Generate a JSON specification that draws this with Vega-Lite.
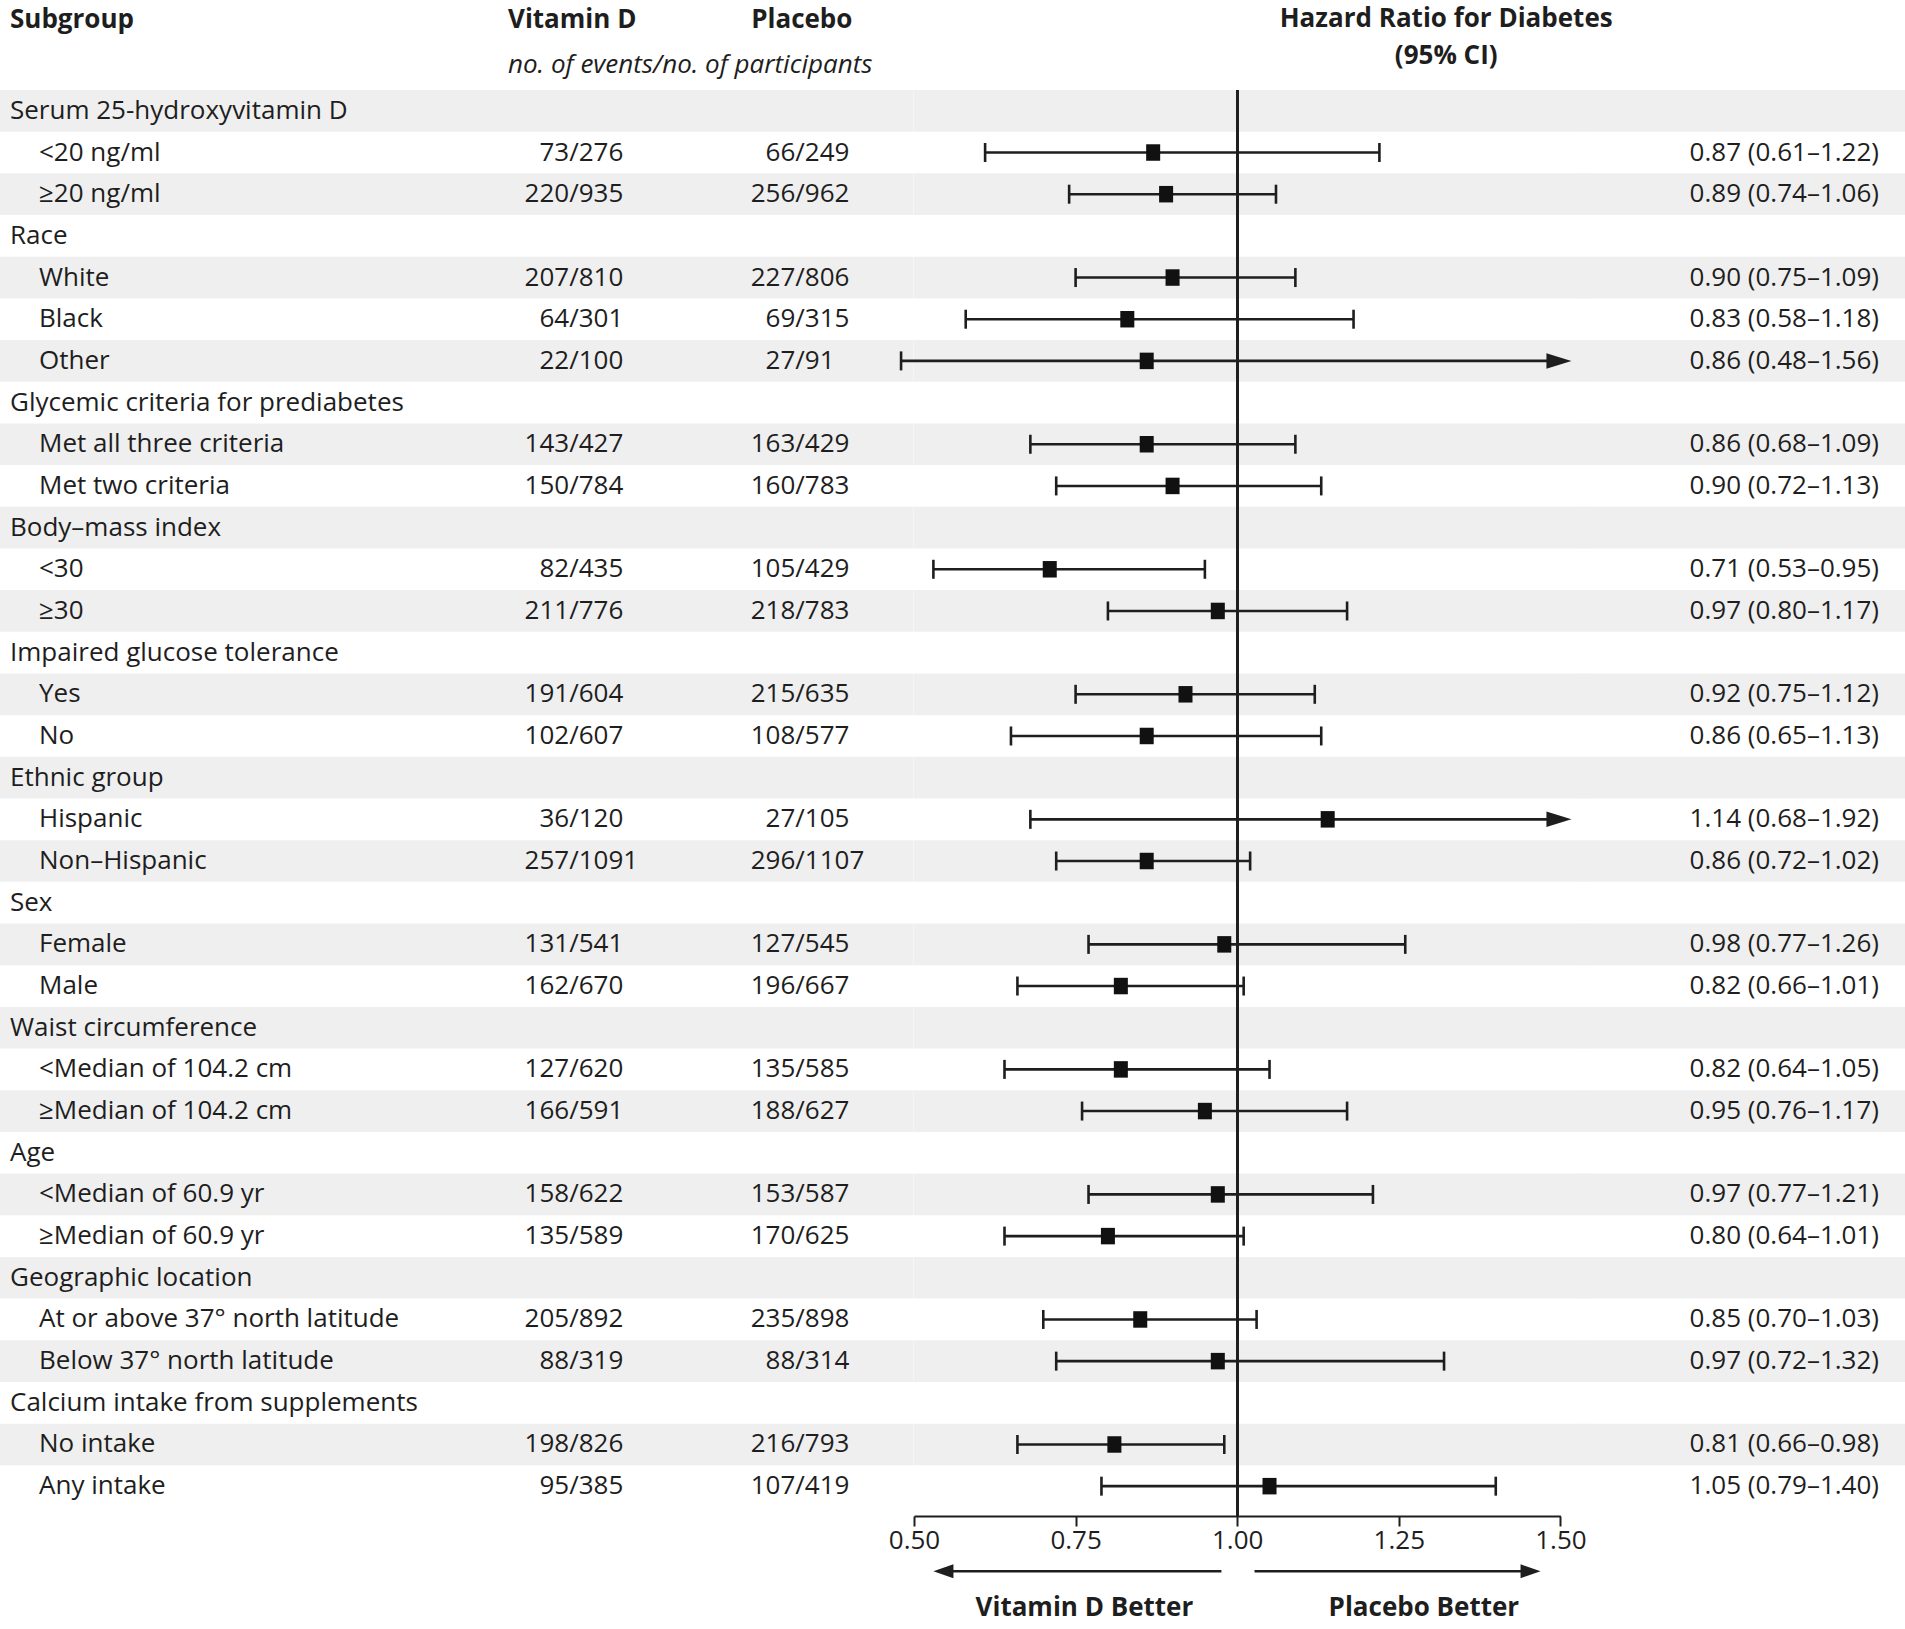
{
  "$schema": "https://vega.github.io/schema/vega-lite/v6.json",
  "padding": {"left": 0, "right": 0, "top": 6, "bottom": 0},
  "background": "white",
  "spacing": 0,
  "config": {
    "font": "Open Sans",
    "view": {"stroke": null},
    "text": {"fontSize": 26, "color": "#1e1e1e", "baseline": "middle"},
    "title": {"font": "Open Sans", "fontSize": 26, "fontWeight": "bold", "color": "#1e1e1e", "subtitleFont": "Open Sans", "subtitleFontSize": 26, "subtitleColor": "#1e1e1e"}
  },
  "datasets": {
    "rows": [
      {"row": 0, "label": "Serum 25-hydroxyvitamin D"},
      {"row": 1, "label": "<20 ng/ml", "vd_events": 73, "vd_total": 276, "pl_events": 66, "pl_total": 249, "hr": 0.87, "lo": 0.61, "hi": 1.22, "hr_text": "0.87 (0.61–1.22)"},
      {"row": 2, "label": "≥20 ng/ml", "vd_events": 220, "vd_total": 935, "pl_events": 256, "pl_total": 962, "hr": 0.89, "lo": 0.74, "hi": 1.06, "hr_text": "0.89 (0.74–1.06)"},
      {"row": 3, "label": "Race"},
      {"row": 4, "label": "White", "vd_events": 207, "vd_total": 810, "pl_events": 227, "pl_total": 806, "hr": 0.90, "lo": 0.75, "hi": 1.09, "hr_text": "0.90 (0.75–1.09)"},
      {"row": 5, "label": "Black", "vd_events": 64, "vd_total": 301, "pl_events": 69, "pl_total": 315, "hr": 0.83, "lo": 0.58, "hi": 1.18, "hr_text": "0.83 (0.58–1.18)"},
      {"row": 6, "label": "Other", "vd_events": 22, "vd_total": 100, "pl_events": 27, "pl_total": 91, "hr": 0.86, "lo": 0.48, "hi": 1.56, "hr_text": "0.86 (0.48–1.56)"},
      {"row": 7, "label": "Glycemic criteria for prediabetes"},
      {"row": 8, "label": "Met all three criteria", "vd_events": 143, "vd_total": 427, "pl_events": 163, "pl_total": 429, "hr": 0.86, "lo": 0.68, "hi": 1.09, "hr_text": "0.86 (0.68–1.09)"},
      {"row": 9, "label": "Met two criteria", "vd_events": 150, "vd_total": 784, "pl_events": 160, "pl_total": 783, "hr": 0.90, "lo": 0.72, "hi": 1.13, "hr_text": "0.90 (0.72–1.13)"},
      {"row": 10, "label": "Body–mass index"},
      {"row": 11, "label": "<30", "vd_events": 82, "vd_total": 435, "pl_events": 105, "pl_total": 429, "hr": 0.71, "lo": 0.53, "hi": 0.95, "hr_text": "0.71 (0.53–0.95)"},
      {"row": 12, "label": "≥30", "vd_events": 211, "vd_total": 776, "pl_events": 218, "pl_total": 783, "hr": 0.97, "lo": 0.80, "hi": 1.17, "hr_text": "0.97 (0.80–1.17)"},
      {"row": 13, "label": "Impaired glucose tolerance"},
      {"row": 14, "label": "Yes", "vd_events": 191, "vd_total": 604, "pl_events": 215, "pl_total": 635, "hr": 0.92, "lo": 0.75, "hi": 1.12, "hr_text": "0.92 (0.75–1.12)"},
      {"row": 15, "label": "No", "vd_events": 102, "vd_total": 607, "pl_events": 108, "pl_total": 577, "hr": 0.86, "lo": 0.65, "hi": 1.13, "hr_text": "0.86 (0.65–1.13)"},
      {"row": 16, "label": "Ethnic group"},
      {"row": 17, "label": "Hispanic", "vd_events": 36, "vd_total": 120, "pl_events": 27, "pl_total": 105, "hr": 1.14, "lo": 0.68, "hi": 1.92, "hr_text": "1.14 (0.68–1.92)"},
      {"row": 18, "label": "Non–Hispanic", "vd_events": 257, "vd_total": 1091, "pl_events": 296, "pl_total": 1107, "hr": 0.86, "lo": 0.72, "hi": 1.02, "hr_text": "0.86 (0.72–1.02)"},
      {"row": 19, "label": "Sex"},
      {"row": 20, "label": "Female", "vd_events": 131, "vd_total": 541, "pl_events": 127, "pl_total": 545, "hr": 0.98, "lo": 0.77, "hi": 1.26, "hr_text": "0.98 (0.77–1.26)"},
      {"row": 21, "label": "Male", "vd_events": 162, "vd_total": 670, "pl_events": 196, "pl_total": 667, "hr": 0.82, "lo": 0.66, "hi": 1.01, "hr_text": "0.82 (0.66–1.01)"},
      {"row": 22, "label": "Waist circumference"},
      {"row": 23, "label": "<Median of 104.2 cm", "vd_events": 127, "vd_total": 620, "pl_events": 135, "pl_total": 585, "hr": 0.82, "lo": 0.64, "hi": 1.05, "hr_text": "0.82 (0.64–1.05)"},
      {"row": 24, "label": "≥Median of 104.2 cm", "vd_events": 166, "vd_total": 591, "pl_events": 188, "pl_total": 627, "hr": 0.95, "lo": 0.76, "hi": 1.17, "hr_text": "0.95 (0.76–1.17)"},
      {"row": 25, "label": "Age"},
      {"row": 26, "label": "<Median of 60.9 yr", "vd_events": 158, "vd_total": 622, "pl_events": 153, "pl_total": 587, "hr": 0.97, "lo": 0.77, "hi": 1.21, "hr_text": "0.97 (0.77–1.21)"},
      {"row": 27, "label": "≥Median of 60.9 yr", "vd_events": 135, "vd_total": 589, "pl_events": 170, "pl_total": 625, "hr": 0.80, "lo": 0.64, "hi": 1.01, "hr_text": "0.80 (0.64–1.01)"},
      {"row": 28, "label": "Geographic location"},
      {"row": 29, "label": "At or above 37° north latitude", "vd_events": 205, "vd_total": 892, "pl_events": 235, "pl_total": 898, "hr": 0.85, "lo": 0.70, "hi": 1.03, "hr_text": "0.85 (0.70–1.03)"},
      {"row": 30, "label": "Below 37° north latitude", "vd_events": 88, "vd_total": 319, "pl_events": 88, "pl_total": 314, "hr": 0.97, "lo": 0.72, "hi": 1.32, "hr_text": "0.97 (0.72–1.32)"},
      {"row": 31, "label": "Calcium intake from supplements"},
      {"row": 32, "label": "No intake", "vd_events": 198, "vd_total": 826, "pl_events": 216, "pl_total": 793, "hr": 0.81, "lo": 0.66, "hi": 0.98, "hr_text": "0.81 (0.66–0.98)"},
      {"row": 33, "label": "Any intake", "vd_events": 95, "vd_total": 385, "pl_events": 107, "pl_total": 419, "hr": 1.05, "lo": 0.79, "hi": 1.40, "hr_text": "1.05 (0.79–1.40)"}
    ],
    "notes": [
      {"side": "Vitamin D Better"},
      {"side": "Placebo Better"}
    ]
  },
  "vconcat": [
    {
      "bounds": "flush",
      "spacing": 0,
      "resolve": {"scale": {"y": "shared"}},
      "hconcat": [
        {
          "width": 470, "height": 1426,
          "title": {"text": "Subgroup", "anchor": "start", "dx": 10, "offset": 56.7},
          "data": {"name": "rows"},
          "encoding": {"y": {"field": "row", "type": "ordinal", "axis": null, "scale": {"paddingInner": 0, "paddingOuter": 0.108, "align": 0}}},
          "layer": [
            {"transform": [{"filter": "datum.row % 2 == 0"}], "mark": {"type": "rect", "color": "#efefef"}},
            {"transform": [{"filter": "!isValid(datum.hr)"}], "mark": {"type": "text", "align": "left", "dx": 10},
             "encoding": {"x": {"datum": 0, "type": "quantitative", "scale": {"domain": [0, 1], "nice": false, "zero": false}, "axis": null}, "text": {"field": "label", "type": "nominal"}}},
            {"transform": [{"filter": "isValid(datum.hr)"}], "mark": {"type": "text", "align": "left", "dx": 39},
             "encoding": {"x": {"datum": 0, "type": "quantitative", "scale": {"domain": [0, 1], "nice": false, "zero": false}, "axis": null}, "text": {"field": "label", "type": "nominal"}}}
          ]
        },
        {
          "width": 210, "height": 1426,
          "title": {"text": "Vitamin D", "subtitle": "no. of events/no. of participants", "anchor": "start", "dx": 38, "subtitleFontStyle": "italic", "subtitleFontWeight": "normal", "subtitlePadding": 19, "offset": 11.7},
          "data": {"name": "rows"},
          "encoding": {"y": {"field": "row", "type": "ordinal", "axis": null}},
          "layer": [
            {"transform": [{"filter": "datum.row % 2 == 0"}], "mark": {"type": "rect", "color": "#efefef"}},
            {"transform": [{"filter": "isValid(datum.hr)"}], "mark": {"type": "text", "align": "right", "dx": -4.8},
             "encoding": {"x": {"datum": 0.495, "type": "quantitative", "scale": {"domain": [0, 1], "nice": false, "zero": false}, "axis": null}, "text": {"field": "vd_events", "type": "nominal"}}},
            {"transform": [{"filter": "isValid(datum.hr)"}], "mark": {"type": "text", "align": "center", "text": "/"},
             "encoding": {"x": {"datum": 0.495, "type": "quantitative"}}},
            {"transform": [{"filter": "isValid(datum.hr)"}], "mark": {"type": "text", "align": "left", "dx": 4.8},
             "encoding": {"x": {"datum": 0.495, "type": "quantitative"}, "text": {"field": "vd_total", "type": "nominal"}}}
          ]
        },
        {
          "width": 233.6, "height": 1426,
          "title": {"text": "Placebo", "anchor": "middle", "dx": 5, "offset": 56.7},
          "data": {"name": "rows"},
          "encoding": {"y": {"field": "row", "type": "ordinal", "axis": null}},
          "layer": [
            {"transform": [{"filter": "datum.row % 2 == 0"}], "mark": {"type": "rect", "color": "#efefef"}},
            {"transform": [{"filter": "isValid(datum.hr)"}], "mark": {"type": "text", "align": "right", "dx": -4.8},
             "encoding": {"x": {"datum": 0.514, "type": "quantitative", "scale": {"domain": [0, 1], "nice": false, "zero": false}, "axis": null}, "text": {"field": "pl_events", "type": "nominal"}}},
            {"transform": [{"filter": "isValid(datum.hr)"}], "mark": {"type": "text", "align": "center", "text": "/"},
             "encoding": {"x": {"datum": 0.514, "type": "quantitative"}}},
            {"transform": [{"filter": "isValid(datum.hr)"}], "mark": {"type": "text", "align": "left", "dx": 4.8},
             "encoding": {"x": {"datum": 0.514, "type": "quantitative"}, "text": {"field": "pl_total", "type": "nominal"}}}
          ]
        },
        {
          "width": 646.4, "height": 1426,
          "title": {"text": "Hazard Ratio for Diabetes", "subtitle": "(95% CI)", "anchor": "middle", "dx": 209, "subtitleFontWeight": "bold", "subtitlePadding": 11, "offset": 19.7},
          "data": {"name": "rows"},
          "encoding": {"y": {"field": "row", "type": "ordinal", "axis": null}},
          "layer": [
            {"transform": [{"filter": "datum.row % 2 == 0"}], "mark": {"type": "rect", "color": "#efefef"},
             "encoding": {"x": {"datum": 0.5, "type": "quantitative", "scale": {"domain": [0.5, 1.5], "nice": false, "zero": false},
               "axis": {"values": [0.5, 0.75, 1, 1.25, 1.5], "format": ".2f", "title": null, "grid": false, "tickSize": 10, "tickWidth": 2, "tickColor": "#1e1e1e", "domainWidth": 2, "domainColor": "#1e1e1e", "labelFontSize": 26, "labelColor": "#1e1e1e", "labelPadding": 1, "labelFlush": false, "labelOverlap": false, "labelFont": "Open Sans"}},
               "x2": {"datum": 1.54}}},
            {"mark": {"type": "rule", "color": "#1e1e1e", "strokeWidth": 1.8},
             "encoding": {"x": {"datum": 1, "type": "quantitative"}, "y": null}},
            {"transform": [{"filter": "isValid(datum.hr) && datum.hi <= 1.5"}], "mark": {"type": "rule", "color": "#1e1e1e", "strokeWidth": 2.6},
             "encoding": {"x": {"field": "lo", "type": "quantitative"}, "x2": {"field": "hi"}}},
            {"transform": [{"filter": "isValid(datum.hr) && datum.hi > 1.5"}], "mark": {"type": "rule", "color": "#1e1e1e", "strokeWidth": 2.6},
             "encoding": {"x": {"field": "lo", "type": "quantitative"}, "x2": {"datum": 1.49}}},
            {"transform": [{"filter": "isValid(datum.hr) && datum.hi > 1.5"}], "mark": {"type": "point", "shape": "M-1,-0.62L1,0L-1,0.62Z", "size": 625, "filled": true, "color": "#1e1e1e", "opacity": 1},
             "encoding": {"x": {"datum": 1.4977, "type": "quantitative"}}},
            {"transform": [{"filter": "isValid(datum.hr)"}], "mark": {"type": "tick", "orient": "vertical", "size": 19, "thickness": 2.6, "color": "#1e1e1e", "opacity": 1},
             "encoding": {"x": {"field": "lo", "type": "quantitative"}}},
            {"transform": [{"filter": "isValid(datum.hr) && datum.hi <= 1.5"}], "mark": {"type": "tick", "orient": "vertical", "size": 19, "thickness": 2.6, "color": "#1e1e1e", "opacity": 1},
             "encoding": {"x": {"field": "hi", "type": "quantitative"}}},
            {"transform": [{"filter": "isValid(datum.hr)"}], "mark": {"type": "point", "shape": "M-0.85,-1H0.85V1H-0.85Z", "size": 272, "filled": true, "color": "#111111", "opacity": 1},
             "encoding": {"x": {"field": "hr", "type": "quantitative"}}}
          ]
        },
        {
          "width": 345, "height": 1426,
          "data": {"name": "rows"},
          "encoding": {"y": {"field": "row", "type": "ordinal", "axis": null}},
          "layer": [
            {"transform": [{"filter": "datum.row % 2 == 0"}], "mark": {"type": "rect", "color": "#efefef"},
             "encoding": {"x": {"datum": 0.06, "type": "quantitative", "scale": {"domain": [0, 1], "nice": false, "zero": false}, "axis": null}, "x2": {"datum": 1}}},
            {"transform": [{"filter": "isValid(datum.hr)"}], "mark": {"type": "text", "align": "right"},
             "encoding": {"x": {"datum": 0.9217, "type": "quantitative"}, "text": {"field": "hr_text", "type": "nominal"}}}
          ]
        }
      ]
    },
    {
      "bounds": "flush",
      "spacing": 0,
      "hconcat": [
        {
          "width": 913.6, "height": 76,
          "data": {"values": []},
          "mark": {"type": "text"}
        },
        {
          "width": 646.4, "height": 76,
          "data": {"name": "notes"},
          "encoding": {"y": {"datum": 0.76, "type": "quantitative", "scale": {"domain": [0, 1], "nice": false, "zero": false}, "axis": null}},
          "layer": [
            {"transform": [{"filter": "datum.side == 'Vitamin D Better'"}], "mark": {"type": "rule", "color": "#1e1e1e", "strokeWidth": 2.5},
             "encoding": {"x": {"datum": 0.9756, "type": "quantitative", "scale": {"domain": [0.5, 1.5], "nice": false, "zero": false}, "axis": null}, "x2": {"datum": 0.546}}},
            {"transform": [{"filter": "datum.side == 'Vitamin D Better'"}], "mark": {"type": "point", "shape": "M1,-0.7L-1,0L1,0.7Z", "size": 400, "filled": true, "color": "#1e1e1e", "opacity": 1},
             "encoding": {"x": {"datum": 0.5455, "type": "quantitative"}}},
            {"transform": [{"filter": "datum.side == 'Placebo Better'"}], "mark": {"type": "rule", "color": "#1e1e1e", "strokeWidth": 2.5},
             "encoding": {"x": {"datum": 1.0268, "type": "quantitative"}, "x2": {"datum": 1.453}}},
            {"transform": [{"filter": "datum.side == 'Placebo Better'"}], "mark": {"type": "point", "shape": "M-1,-0.7L1,0L-1,0.7Z", "size": 400, "filled": true, "color": "#1e1e1e", "opacity": 1},
             "encoding": {"x": {"datum": 1.4538, "type": "quantitative"}}},
            {"transform": [{"filter": "datum.side == 'Vitamin D Better'"}], "mark": {"type": "text", "align": "center", "fontWeight": "bold"},
             "encoding": {"x": {"datum": 0.7636, "type": "quantitative"}, "y": {"datum": 0.272, "type": "quantitative"}, "text": {"field": "side", "type": "nominal"}}},
            {"transform": [{"filter": "datum.side == 'Placebo Better'"}], "mark": {"type": "text", "align": "center", "fontWeight": "bold"},
             "encoding": {"x": {"datum": 1.2888, "type": "quantitative"}, "y": {"datum": 0.272, "type": "quantitative"}, "text": {"field": "side", "type": "nominal"}}}
          ]
        }
      ]
    }
  ]
}
